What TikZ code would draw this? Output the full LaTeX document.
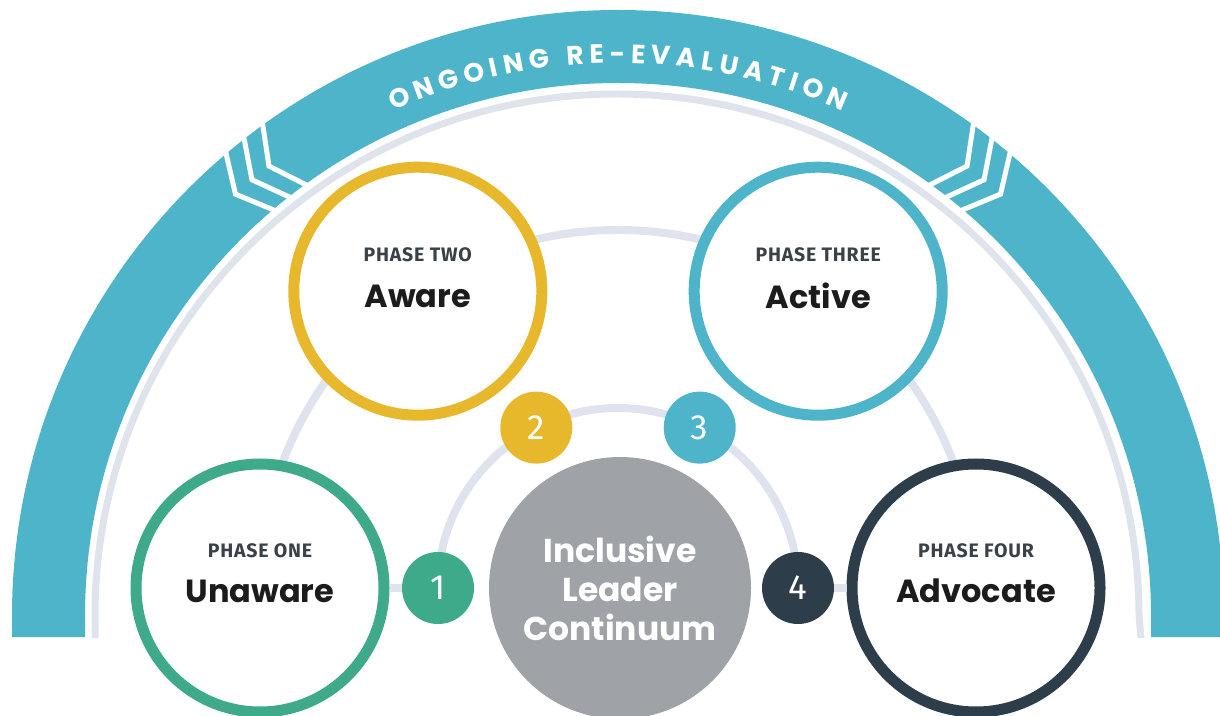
\documentclass[tikz,border=0pt]{standalone}
\usepackage{fontspec}
\usetikzlibrary{calc,decorations.text}

\newfontfamily\headfont{Poppins}
\newfontfamily\smallfont{Fira Sans}
\newfontfamily\lblfont{Fira Sans}[LetterSpace=4]

\definecolor{bandteal}{HTML}{4DB4C9}
\definecolor{rimgray}{HTML}{DFE3EC}
\definecolor{ringgray}{HTML}{DEE3EE}
\definecolor{phgreen}{HTML}{3FAA8A}
\definecolor{phyellow}{HTML}{E7B82C}
\definecolor{phteal}{HTML}{4DB4C9}
\definecolor{phdark}{HTML}{2D3E4A}
\definecolor{coregray}{HTML}{9FA3A8}
\definecolor{lbltext}{HTML}{3A4148}
\definecolor{nametext}{HTML}{1C1C1C}

\tikzset{
  phase/.style={circle, draw=#1, line width=11pt, fill=white, minimum size=248pt, inner sep=0pt},
  badge/.style={circle, fill=#1, minimum size=72pt, inner sep=0pt, text=white,
    font=\smallfont\fontsize{35}{35}\selectfont},
  ring/.style={ringgray, line width=8pt},
  chev/.style={white, line width=5pt},
  phaselbl/.style={text=lbltext, font=\lblfont\bfseries\fontsize{19.5}{19.5}\selectfont},
  phasename/.style={text=nametext, font=\headfont\bfseries\fontsize{32}{32}\selectfont},
}

\begin{document}
\begin{tikzpicture}[x=1pt,y=1pt]
      \useasboundingbox (0,0) rectangle (1220,715);
      \clip (0,0) rectangle (1220,715);

      \coordinate (arcc) at (618,99);
      \coordinate (ctr) at (618,127);

      % Outer band
      \fill[bandteal] (12,78) -- (12,99) arc[start angle=180, end angle=0, radius=606]
        -- (1224,78) -- (1151,78) -- (1151,99) arc[start angle=0, end angle=180, radius=533]
        -- (85,78) -- cycle;

      \begin{scope}[shift={(arcc)}]
        \draw[chev] (130:612) -- (132.2:569.5) -- (130:527);
        \draw[chev] (127.8:612) -- (130:569.5) -- (127.8:527);
        \draw[chev] (125.6:612) -- (127.8:569.5) -- (125.6:527);
        \draw[chev] (50:612) -- (47.8:569.5) -- (50:527);
        \draw[chev] (52.2:612) -- (50:569.5) -- (52.2:527);
        \draw[chev] (54.4:612) -- (52.2:569.5) -- (54.4:527);

        \path[decorate, decoration={text along path, text align=center, text color=white,
            text={|\headfont\bfseries\fontsize{26.5}{26.5}\selectfont|O N G O I N G {\ } R E - E V A L U A T I O N}}]
          (125:553) arc[start angle=125, end angle=55, radius=553];
      \end{scope}

      \draw[rimgray, line width=7pt] (95,77) -- (95,99) arc[start angle=180, end angle=0, radius=522] -- (1141,77);

      % Rings
      \draw[ring] ($(ctr)+(180:358)$) arc[start angle=180, end angle=0, radius=358];
      \draw[ring] ($(ctr)+(180:180)$) arc[start angle=180, end angle=0, radius=180];

      % Phases
      \node[phase=phgreen]  (unaware)  at ($(ctr)+(180:358)$) {};
      \node[phase=phyellow] (aware)    at ($(ctr)+(124:358)$) {};
      \node[phase=phteal]   (active)   at ($(ctr)+(56:358)$) {};
      \node[phase=phdark]   (advocate) at ($(ctr)+(0:358)$) {};

      \node[badge=phgreen]  (one)   at ($(ctr)+(180:180)$) {1};
      \node[badge=phyellow] (two)   at ($(ctr)+(117:180)$) {2};
      \node[badge=phteal]   (three) at ($(ctr)+(63:180)$) {3};
      \node[badge=phdark]   (four)  at ($(ctr)+(0:180)$) {4};

      \node[circle, fill=coregray, minimum size=262pt, inner sep=0pt, align=center, text=white,
        font=\headfont\bfseries\fontsize{33}{39}\selectfont] (core) at ($(ctr)+(2,0)$)
        {Inclusive\\Leader\\Continuum};

      \draw[ring] (one) -- (unaware);
      \draw[ring] (four) -- (advocate);

      \node[phaselbl]  (unaware-l)  at ([yshift=37pt]unaware.center)  {PHASE ONE};
      \node[phasename] (unaware-n)  at ([yshift=-3pt]unaware.center)  {Unaware};
      \node[phaselbl]  (aware-l)    at ([yshift=36pt]aware.center)    {PHASE TWO};
      \node[phasename] (aware-n)    at ([yshift=-5pt]aware.center)    {Aware};
      \node[phaselbl]  (active-l)   at ([yshift=36pt]active.center)   {PHASE THREE};
      \node[phasename] (active-n)   at ([yshift=-5pt]active.center)   {Active};
      \node[phaselbl]  (advocate-l) at ([yshift=37pt]advocate.center) {PHASE FOUR};
      \node[phasename] (advocate-n) at ([yshift=-3pt]advocate.center) {Advocate};
\end{tikzpicture}
\end{document}
